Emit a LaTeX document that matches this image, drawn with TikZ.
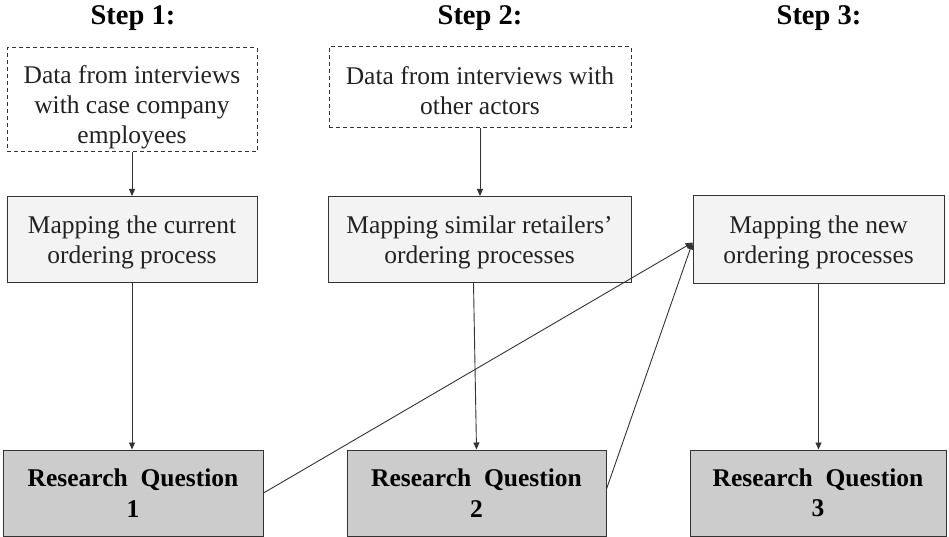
\documentclass[tikz,border=0pt]{standalone}
\usepackage{fontspec}
\setmainfont{Liberation Serif}
\usetikzlibrary{arrows.meta,calc}
\definecolor{lineC}{HTML}{333333}
\definecolor{mapF}{HTML}{F3F3F3}
\definecolor{rqF}{HTML}{CCCCCC}
\definecolor{txtC}{HTML}{222222}
\tikzset{
  x=1pt,y=-1pt,
  basebox/.style={rectangle,draw=lineC,line width=1pt,inner sep=0pt},
  databox/.style={basebox,dash pattern=on 4pt off 3pt,fill=white},
  mapbox/.style={basebox,fill=mapF},
  rqbox/.style={basebox,fill=rqF},
  plaintext/.style={inner sep=0pt,align=center,text=txtC,font=\fontsize{25.5}{30}\selectfont},
  boldtext/.style={inner sep=0pt,align=center,text=black,font=\fontsize{25.5}{30.5}\selectfont\bfseries},
  heading/.style={font=\fontsize{28.5}{32}\selectfont\bfseries,inner sep=0pt,anchor=base},
  conn/.style={draw=lineC,line width=0.9pt,-{Triangle[length=7pt,width=6pt]}}
}
\begin{document}
\begin{tikzpicture}
\useasboundingbox (0,0) rectangle (949,537);
\node[heading] (h1) at (133,25) {Step 1:};
\node[heading] (h2) at (480,25) {Step 2:};
\node[heading] (h3) at (819,25) {Step 3:};

\node[databox,minimum width=250,minimum height=104,
  label={[plaintext,yshift=-7pt]center:{Data from interviews\\with case company\\employees}}] (d1) at (132,100) {};
\node[databox,minimum width=302,minimum height=81,
  label={[plaintext,yshift=-3.5pt]center:{Data from interviews with\\other actors}}] (d2) at (480,87.5) {};

\node[mapbox,minimum width=250,minimum height=86,
  label={[plaintext,yshift=-3pt]center:{Mapping the current\\ordering process}}] (m1) at (132,239.5) {};
\node[mapbox,minimum width=303,minimum height=86,
  label={[plaintext,yshift=-3pt]center:{Mapping similar retailers'\\ordering processes}}] (m2) at (479.5,239.5) {};
\node[mapbox,minimum width=251,minimum height=87,
  label={[plaintext,yshift=-3pt]center:{Mapping the new\\ordering processes}}] (m3) at (818.5,239.5) {};

\node[rqbox,minimum width=260,minimum height=86,
  label={[boldtext]center:{Research\ \ Question\\1}}] (r1) at (133,493) {};
\node[rqbox,minimum width=259,minimum height=86,
  label={[boldtext]center:{Research\ \ Question\\2}}] (r2) at (476.5,493) {};
\node[rqbox,minimum width=256,minimum height=86,
  label={[boldtext]center:{Research\ \ Question\\3}}] (r3) at (818,493) {};

\draw[conn] (d1.south) -- (d1.south |- m1.north);
\draw[conn] (d2.south) -- (d2.south |- m2.north);
\draw[conn] (m1.south) -- (m1.south |- r1.north);
\draw[conn] ([xshift=-6pt]m2.south) -- (r2.north);
\draw[conn] (m3.south) -- (m3.south |- r3.north);
\draw[conn] (r1.east) -- ([yshift=-3pt]m3.west);
\draw[conn] ([yshift=4pt]r2.east) -- ([yshift=-3pt]m3.west);
\end{tikzpicture}
\end{document}
